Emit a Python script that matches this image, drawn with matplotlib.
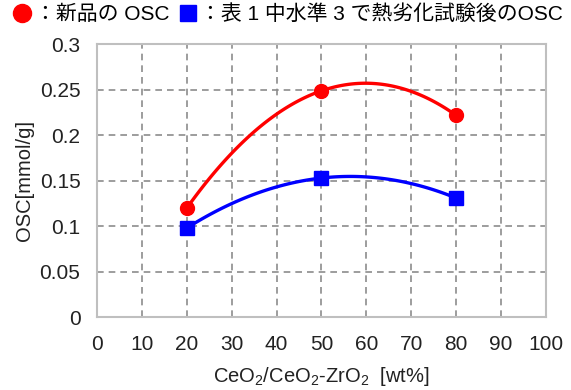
import numpy as np
import matplotlib
matplotlib.use("Agg")
import matplotlib.pyplot as plt
from matplotlib.lines import Line2D

plt.rcParams['font.family'] = ['Liberation Sans', 'Noto Sans CJK JP', 'DejaVu Sans']
plt.rcParams['mathtext.fontset'] = 'custom'
plt.rcParams['mathtext.rm'] = 'Liberation Sans'
plt.rcParams['mathtext.it'] = 'Liberation Sans'

# data
ceo2_wt = [20, 50, 80]
osc_fresh = [0.120, 0.249, 0.222]
osc_aged = [0.098, 0.153, 0.131]

label_fresh = "：新品の OSC"
label_aged = "：表 1 中水準 3 で熱劣化試験後のOSC"


def smooth(xs, ys, n=100):
    # smoothed line through the three points (quadratic, as in the original)
    c = np.polyfit(xs, ys, len(xs) - 1)
    gx = np.linspace(min(xs), max(xs), n)
    return gx, np.polyval(c, gx)


fig = plt.figure(figsize=(5.71, 3.9), dpi=100)
ax = fig.add_axes([0.170, 0.187, 0.786, 0.699])

sx, sy = smooth(ceo2_wt, osc_fresh)
ax.plot(sx, sy, color='#ff0000', lw=2.4, zorder=3)
ax.plot(ceo2_wt, osc_fresh, 'o', color='#ff0000', ms=10, zorder=4)

sx, sy = smooth(ceo2_wt, osc_aged)
ax.plot(sx, sy, color='#0000ff', lw=2.4, zorder=3)
ax.plot(ceo2_wt, osc_aged, 's', color='#0000ff', ms=10, zorder=4)

ax.set_xlim(0, 100)
ax.set_ylim(0, 0.3)
ax.set_xticks(np.arange(0, 101, 10))
ax.set_yticks([0, 0.05, 0.1, 0.15, 0.2, 0.25, 0.3])
ax.set_yticklabels(['0', '0.05', '0.1', '0.15', '0.2', '0.25', '0.3'])
ax.tick_params(length=0, labelsize=15, colors='#222222')
ax.tick_params(axis='x', pad=13)
ax.tick_params(axis='y', pad=12)
ax.grid(True, color='#8c8c8c', ls=(0, (4, 3)), lw=1.2)
for s in ax.spines.values():
    s.set_color('#bfbfbf')
    s.set_linewidth(1.5)

ax.set_xlabel("CeO$_2$/CeO$_2$-ZrO$_2$  [wt%]", fontsize=14.5, color='#222222', labelpad=8)
ax.set_ylabel("OSC[mmol/g]", fontsize=14.5, color='#222222', labelpad=4)

handles = [Line2D([], [], marker='o', color='#ff0000', ls='none', ms=13),
           Line2D([], [], marker='s', color='#0000ff', ls='none', ms=11)]
fig.legend(handles, [label_fresh, label_aged], loc='upper left', bbox_to_anchor=(-0.005, 1.02),
           ncol=2, frameon=False, fontsize=15, handletextpad=0.0, columnspacing=0.3,
           handlelength=1.2, borderaxespad=0.2)

fig.savefig('out.png', dpi=100)
